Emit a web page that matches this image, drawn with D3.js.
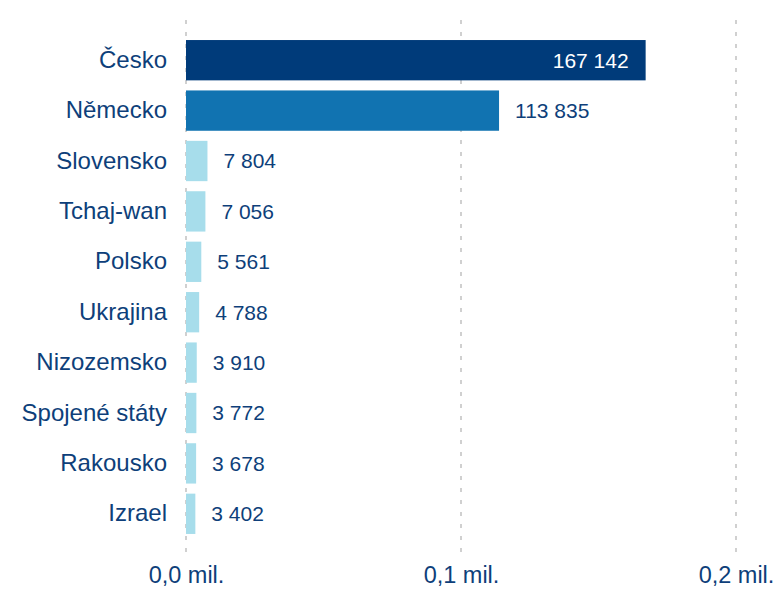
<!DOCTYPE html>
<html>
<head>
<meta charset="utf-8">
<script src="https://cdn.jsdelivr.net/npm/d3@7"></script>
<style>
  body { margin: 0; background: #fff; }
  text { font-family: "Liberation Sans", Arial, sans-serif; }
</style>
</head>
<body>
<div id="chart"></div>
<script>
const width = 782;
const height = 591;

// Data
const countries = ["Česko", "Německo", "Slovensko", "Tchaj-wan", "Polsko", "Ukrajina", "Nizozemsko", "Spojené státy", "Rakousko", "Izrael"];
const values = [167142, 113835, 7804, 7056, 5561, 4788, 3910, 3772, 3678, 3402];
const barColors = ["#003b7a", "#1173b1", "#a7ddeb", "#a7ddeb", "#a7ddeb", "#a7ddeb", "#a7ddeb", "#a7ddeb", "#a7ddeb", "#a7ddeb"];
const tickValues = [0, 100000, 200000];
const tickLabels = ["0,0 mil.", "0,1 mil.", "0,2 mil."];

const textColor = "#0e3f7a";
const rows = countries.map((c, i) => ({ country: c, value: values[i], color: barColors[i] }));

const svg = d3.select("#chart")
    .append("svg")
    .attr("width", width)
    .attr("height", height);

const x = d3.scaleLinear()
    .domain([0, 200000])
    .range([186, 736]);

const y = d3.scaleBand()
    .domain(countries)
    .range([35, 539])
    .paddingInner(0.2)
    .paddingOuter(0.1);

// Gridlines
svg.append("g")
    .selectAll("line")
    .data(tickValues)
  .enter().append("line")
    .attr("x1", d => x(d))
    .attr("x2", d => x(d))
    .attr("y1", 20)
    .attr("y2", 556)
    .attr("stroke", "#d0d0d0")
    .attr("stroke-width", 2)
    .attr("stroke-dasharray", "4,8");

// X axis labels
const xAxis = d3.axisBottom(x)
    .tickValues(tickValues)
    .tickFormat((d, i) => tickLabels[i])
    .tickSize(0)
    .tickPadding(0);

svg.append("g")
    .attr("transform", "translate(0,566)")
    .call(xAxis)
    .call(g => g.select(".domain").remove())
    .selectAll("text")
    .attr("font-size", 23.5)
    .attr("fill", textColor)
    .attr("dy", "0.71em");

// Y axis labels
const yAxis = d3.axisLeft(y).tickSize(0).tickPadding(0);
svg.append("g")
    .attr("transform", "translate(167,0)")
    .call(yAxis)
    .call(g => g.select(".domain").remove())
    .selectAll("text")
    .attr("font-size", 24)
    .attr("fill", textColor);

// Bars
svg.append("g")
    .selectAll("rect")
    .data(rows)
  .enter().append("rect")
    .attr("x", x(0))
    .attr("y", d => y(d.country))
    .attr("width", d => x(d.value) - x(0))
    .attr("height", y.bandwidth())
    .attr("fill", d => d.color);

// Value labels
const fmt = v => d3.format(",")(v).replace(/,/g, " ");
svg.append("g")
    .selectAll("text")
    .data(rows)
  .enter().append("text")
    .attr("x", (d, i) => i === 0 ? x(d.value) - 17 : x(d.value) + 16)
    .attr("y", d => y(d.country) + y.bandwidth() / 2)
    .attr("dy", "0.35em")
    .attr("text-anchor", (d, i) => i === 0 ? "end" : "start")
    .attr("font-size", 21)
    .attr("fill", (d, i) => i === 0 ? "#ffffff" : textColor)
    .text(d => fmt(d.value));
</script>
</body>
</html>
